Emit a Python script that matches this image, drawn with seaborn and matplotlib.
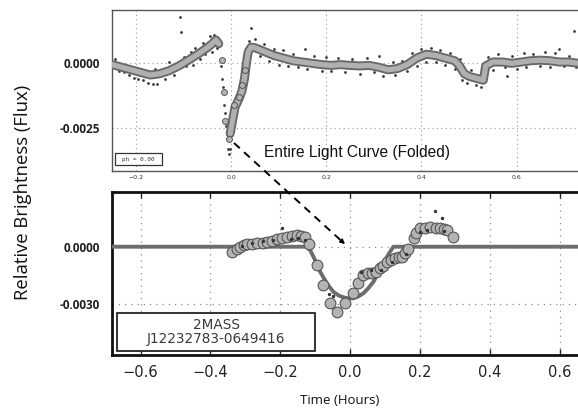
import numpy as np
import pandas as pd
import matplotlib
matplotlib.use("Agg")
import matplotlib.pyplot as plt
import matplotlib.patheffects as pe
from matplotlib.patches import FancyArrowPatch, Rectangle
from matplotlib.lines import Line2D
import seaborn as sns

# ---------------- data ----------------
# Top panel: folded light curve, binned (phase, flux in units of 1e-3), two segments
top_phase = [-0.25, -0.23, -0.21, -0.19, -0.17, -0.15, -0.13, -0.11, -0.09, -0.07,
             -0.05, -0.04, -0.032, -0.026,
             -0.002, 0.004, 0.008, 0.013, 0.018, 0.023, 0.028, 0.032, 0.036, 0.042,
             0.05, 0.07, 0.09, 0.11, 0.13, 0.15, 0.17, 0.19, 0.21, 0.23,
             0.25, 0.27, 0.29, 0.31, 0.33, 0.35, 0.37, 0.39, 0.41, 0.43,
             0.45, 0.47, 0.48, 0.49, 0.50, 0.52, 0.53, 0.535, 0.55, 0.57,
             0.59, 0.61, 0.63, 0.65, 0.67, 0.69, 0.71, 0.73]
top_flux = [-0.05, -0.15, -0.25, -0.35, -0.45, -0.40, -0.28, -0.10, 0.12, 0.35,
            0.60, 0.75, 0.90, 0.75,
            -2.70, -2.10, -1.70, -1.50, -1.30, -1.05, -0.60, 0.00, 0.45, 0.62,
            0.60, 0.45, 0.30, 0.20, 0.10, 0.05, 0.00, -0.05, -0.08, -0.05,
            -0.08, -0.10, -0.08, -0.15, -0.25, -0.20, -0.05, 0.20, 0.35, 0.30,
            0.20, 0.10, -0.10, -0.40, -0.50, -0.60, -0.65, -0.10, 0.05, 0.05,
            0.00, 0.05, 0.10, 0.12, 0.10, 0.05, 0.05, 0.00]
top_segment = [1] * 14 + [2] * 48

# Top panel: individual scattered measurements
dot_phase = [-0.245, -0.235, -0.225, -0.215, -0.205, -0.195, -0.185, -0.175, -0.165, -0.155,
             -0.16, -0.14, -0.13, -0.12, -0.107, -0.105, -0.1, -0.095, -0.085, -0.08,
             -0.075, -0.065, -0.06, -0.055, -0.045, -0.04, -0.035, -0.03,
             -0.021, -0.019, -0.017, -0.015, -0.013, -0.011, -0.009, -0.007, -0.005, -0.002,
             0.002, 0.006, 0.01, 0.015, 0.02, 0.025, 0.03, 0.038, 0.042,
             0.05, 0.06, 0.07, 0.08, 0.09, 0.1, 0.11, 0.12, 0.13, 0.14,
             0.155, 0.16, 0.175, 0.19, 0.2, 0.21, 0.225, 0.24, 0.255, 0.27,
             0.285, 0.3, 0.31, 0.32, 0.34, 0.345, 0.36, 0.37, 0.38, 0.39,
             0.4, 0.41, 0.42, 0.43, 0.44, 0.45, 0.46, 0.47, 0.48, 0.485,
             0.495, 0.505, 0.515, 0.525, 0.53, 0.54, 0.55, 0.56, 0.575, 0.58,
             0.59, 0.6, 0.615, 0.62, 0.635, 0.65, 0.66, 0.67, 0.68, 0.69,
             0.7, 0.71, 0.72, 0.725]
dot_flux = [0.15, -0.3, -0.35, -0.45, -0.55, -0.6, -0.65, -0.75, -0.8, -0.78,
            -0.2, -0.6, 0.05, -0.45, 1.8, 1.2, 0.25, -0.1, 0.45, -0.05,
            0.6, 0.15, 0.8, 0.35, 1.05, 0.45, 1.1, 0.6,
            -0.1, -0.6, -0.9, -1.6, -1.9, -2.4, -2.9, -3.3, -3.5, -3.3,
            -2.5, -2.0, -1.9, -1.1, -0.9, -0.4, 0.3, 0.85, 1.35,
            0.95, 0.3, 0.75, 0.1, 0.55, -0.05, 0.5, -0.1, 0.35, -0.15,
            0.55, -0.2, 0.3, -0.3, 0.25, -0.3, 0.2, -0.35, 0.15, -0.4,
            0.2, -0.35, 0.3, -0.5, 0.05, -0.45, 0.1, -0.3, 0.4, -0.1,
            0.55, 0.05, 0.6, 0.05, 0.5, -0.05, 0.4, -0.2, 0.15, -0.65,
            -0.75, -0.25, -0.85, -0.9, -0.3, 0.25, -0.25, 0.35, -0.15, -0.5,
            0.3, -0.2, 0.4, -0.15, 0.35, -0.1, 0.45, -0.15, 0.4, 0.55,
            -0.1, 0.3, 1.25, -0.15]

# Top panel: binned points in the dip
dip_phase = [-0.019, -0.0155, -0.012, -0.005, 0.005, 0.016, 0.023, 0.03]
dip_flux = [0.13, -1.1, -2.2, -2.9, -1.6, -1.3, -0.83, -0.26]

# Bottom panel: transit model (hours, flux 1e-3)
model_hours = [-0.70, -0.124, -0.114, -0.105, -0.095, -0.086, -0.076, -0.067, -0.057, -0.048,
               -0.033, -0.019, -0.005, 0.0096, 0.024, 0.038, 0.052, 0.067, 0.081, 0.095,
               0.110, 0.124, 0.70]
model_flux = [0.0, 0.0, -0.2, -0.52, -0.92, -1.3, -1.62, -1.9, -2.15, -2.36,
              -2.55, -2.65, -2.7, -2.7, -2.6, -2.44, -2.18, -1.83, -1.38, -0.87,
              -0.4, 0.0, 0.0]

# Bottom panel: binned observations
obs_hours = [-0.339, -0.325, -0.315, -0.305, -0.296, -0.28, -0.267, -0.25, -0.238, -0.225,
             -0.21, -0.195, -0.181, -0.167, -0.153, -0.14, -0.129, -0.117, -0.096, -0.077,
             -0.058, -0.037, -0.015, 0.0096, 0.024, 0.038, 0.05, 0.062, 0.075, 0.086,
             0.095, 0.105, 0.117, 0.129, 0.14, 0.148, 0.158, 0.167, 0.182, 0.19,
             0.2, 0.215, 0.23, 0.245, 0.258, 0.268, 0.277, 0.296]
obs_flux = [-0.26, -0.1, 0.0, 0.1, 0.12, 0.15, 0.17, 0.2, 0.26, 0.3,
            0.4, 0.45, 0.52, 0.55, 0.6, 0.58, 0.52, 0.12, -0.96, -2.0,
            -2.96, -3.4, -2.96, -2.44, -1.9, -1.48, -1.4, -1.4, -1.3, -1.13,
            -1.0, -0.82, -0.7, -0.6, -0.55, -0.52, -0.35, -0.1, 0.44, 0.7,
            0.96, 1.0, 1.05, 1.0, 1.0, 0.95, 0.87, 0.52]

# Bottom panel: unbinned measurements
raw_hours = [-0.31, -0.28, -0.25, -0.22, -0.196, -0.17, -0.15, -0.13, -0.06, -0.05,
             0.03, 0.06, 0.09, 0.12, 0.16, 0.2, 0.22, 0.244, 0.264, 0.27]
raw_flux = [0.05, 0.22, 0.3, 0.35, 0.96, 0.42, 0.45, 0.35, -2.5, -2.6,
            -1.3, -1.2, -1.2, -0.8, -0.4, 0.75, 0.85, 1.87, 1.49, 0.8]

top_xticks = [-0.2, 0.0, 0.2, 0.4, 0.6]
top_xticklabels = ["\u22120.2", "0.0", "0.2", "0.4", "0.6"]
top_yticks = [0.0, -0.0025]
top_yticklabels = ["0.0000", "-0.0025"]
bot_xticks = [-0.6, -0.4, -0.2, 0.0, 0.2, 0.4, 0.6]
bot_xticklabels = ["\u22120.6", "\u22120.4", "\u22120.2", "0.0", "0.2", "0.4", "0.6"]
bot_yticks = [0.0, -0.003]
bot_yticklabels = ["0.0000", "-0.0030"]

scale = 1e-3
top_df = pd.DataFrame({"phase": top_phase, "flux": np.array(top_flux) * scale,
                       "seg": top_segment})
dot_df = pd.DataFrame({"phase": dot_phase, "flux": np.array(dot_flux) * scale})
dip_df = pd.DataFrame({"phase": dip_phase, "flux": np.array(dip_flux) * scale})
model_df = pd.DataFrame({"hours": model_hours, "flux": np.array(model_flux) * scale})
obs_df = pd.DataFrame({"hours": obs_hours, "flux": np.array(obs_flux) * scale})
raw_df = pd.DataFrame({"hours": raw_hours, "flux": np.array(raw_flux) * scale})

# ---------------- figure ----------------
sns.set_style("white")
plt.rcParams['font.family'] = ['DejaVu Sans']

W, H = 578, 411
fig = plt.figure(figsize=(W / 100, H / 100), dpi=100)

def fx(px):
    return px / W

def fy(py):
    return 1 - py / H

ax1 = fig.add_axes([fx(111.7), fy(171), 1 - fx(111.7), fy(10) - fy(171)])
ax2 = fig.add_axes([fx(111.7), fy(355), 1 - fx(111.7), fy(192.3) - fy(355)])

# ---- top panel ----
ax1.set_xlim(-0.251, 0.729)
ax1.set_ylim(-0.00414, 0.00205)
ax1.grid(True, ls=(0, (1, 3)), color='#9a9a9a', lw=0.8)
ax1.set_axisbelow(True)
sns.scatterplot(data=dot_df, x="phase", y="flux", ax=ax1, s=4, color='#3a3a3a',
                linewidth=0, zorder=2)
sns.lineplot(data=top_df, x="phase", y="flux", units="seg", ax=ax1, color='#b0b0b0',
             lw=3.8, sort=False, estimator=None, zorder=3,
             path_effects=[pe.Stroke(linewidth=6.5, foreground='#686868'), pe.Normal()])
sns.scatterplot(data=dip_df, x="phase", y="flux", ax=ax1, s=18, color='#b4b4b4',
                edgecolor='#555555', linewidth=0.7, zorder=4)
ax1.set_xticks(top_xticks)
ax1.set_xticklabels(top_xticklabels)
ax1.set_yticks(top_yticks)
ax1.set_yticklabels(top_yticklabels)
ax1.tick_params(axis='x', labelsize=4.5, length=2.5, direction='in', pad=3,
                colors='#444444', labelcolor='#333333')
ax1.tick_params(axis='y', length=0, pad=8.5)
for lab in ax1.get_yticklabels():
    lab.set_fontfamily('Open Sans')
    lab.set_fontweight('bold')
    lab.set_fontsize(8.5)
    lab.set_color('#222222')
ax1.set_xlabel("")
ax1.set_ylabel("")
for s in ['left', 'top', 'bottom']:
    ax1.spines[s].set_color('#555555')
    ax1.spines[s].set_linewidth(1.0)
ax1.spines['right'].set_visible(False)

fig.text(fx(356.7), fy(152), "Entire Light Curve (Folded)", ha='center', va='center',
         fontsize=11.2, family='Liberation Sans', color='#111111')

# ph box
fig.add_artist(Rectangle((fx(115), fy(165)), fx(162) - fx(115), fy(153) - fy(165),
                         transform=fig.transFigure, fill=True, facecolor='white',
                         edgecolor='#333333', lw=0.9, zorder=5))
fig.text(fx(138.5), fy(159), "ph = 0.00", ha='center', va='center', fontsize=4.3,
         family='DejaVu Sans Mono', color='#333333', zorder=6)

# ---- bottom panel ----
ax2.set_xlim(-0.683, 0.653)
ax2.set_ylim(-0.00567, 0.00285)
ax2.grid(True, ls=(0, (1, 4)), color='#8a8a8a', lw=0.9)
ax2.set_axisbelow(True)
sns.lineplot(data=model_df, x="hours", y="flux", ax=ax2, color='#6d6d6d', lw=2.8,
             sort=False, estimator=None, zorder=3)
sns.scatterplot(data=obs_df, x="hours", y="flux", ax=ax2, s=60, color='#b3b3b3',
                edgecolor='#555555', linewidth=0.8, zorder=4)
sns.scatterplot(data=raw_df, x="hours", y="flux", ax=ax2, s=6, color='#333333',
                linewidth=0, zorder=5)
ax2.set_xticks(bot_xticks)
ax2.set_xticklabels(bot_xticklabels)
ax2.set_yticks(bot_yticks)
ax2.set_yticklabels(bot_yticklabels)
ax2.tick_params(axis='x', labelsize=10.5, length=4, width=1, direction='in', pad=7,
                top=True, bottom=True, labelcolor='#222222')
ax2.tick_params(axis='y', length=0, pad=8.5)
for lab in ax2.get_yticklabels():
    lab.set_fontfamily('Open Sans')
    lab.set_fontweight('bold')
    lab.set_fontsize(8.5)
    lab.set_color('#222222')
ax2.set_xlabel("")
ax2.set_ylabel("")
for s in ['left', 'top', 'bottom']:
    ax2.spines[s].set_color('#111111')
    ax2.spines[s].set_linewidth(2.0)
ax2.spines['right'].set_visible(False)

# name box
fig.add_artist(Rectangle((fx(116.7), fy(351)), fx(315) - fx(116.7), fy(313) - fy(351),
                         transform=fig.transFigure, fill=True, facecolor='white',
                         edgecolor='#222222', lw=1.3, zorder=6))
fig.text(fx(216), fy(324.5), "2MASS", ha='center', va='center', fontsize=9.8,
         color='#3a3a3a', zorder=7)
fig.text(fx(216), fy(339), "J12232783-0649416", ha='center', va='center', fontsize=9.8,
         color='#3a3a3a', zorder=7)

# axis labels
fig.text(fx(23), fy(192), "Relative Brightness (Flux)", rotation=90, ha='center',
         va='center', fontsize=13.3, family='Open Sans', color='#111111')
fig.text(fx(340), fy(400), "Time (Hours)", ha='center', va='center', fontsize=9.5,
         family='Open Sans', color='#111111')

# dashed connector arrow
x0, y0 = fx(234), fy(143)
x1, y1 = fx(347), fy(246)
fig.add_artist(Line2D([x0, x0 + (x1 - x0) * 0.95], [y0, y0 + (y1 - y0) * 0.95],
                      transform=fig.transFigure, color='black', lw=1.4,
                      ls=(0, (4, 3)), zorder=8))
fig.add_artist(FancyArrowPatch((x0 + (x1 - x0) * 0.93, y0 + (y1 - y0) * 0.93), (x1, y1),
                               transform=fig.transFigure, arrowstyle='-|>',
                               mutation_scale=7, color='black', lw=1.0, zorder=8))

fig.savefig("out.png", dpi=100)
